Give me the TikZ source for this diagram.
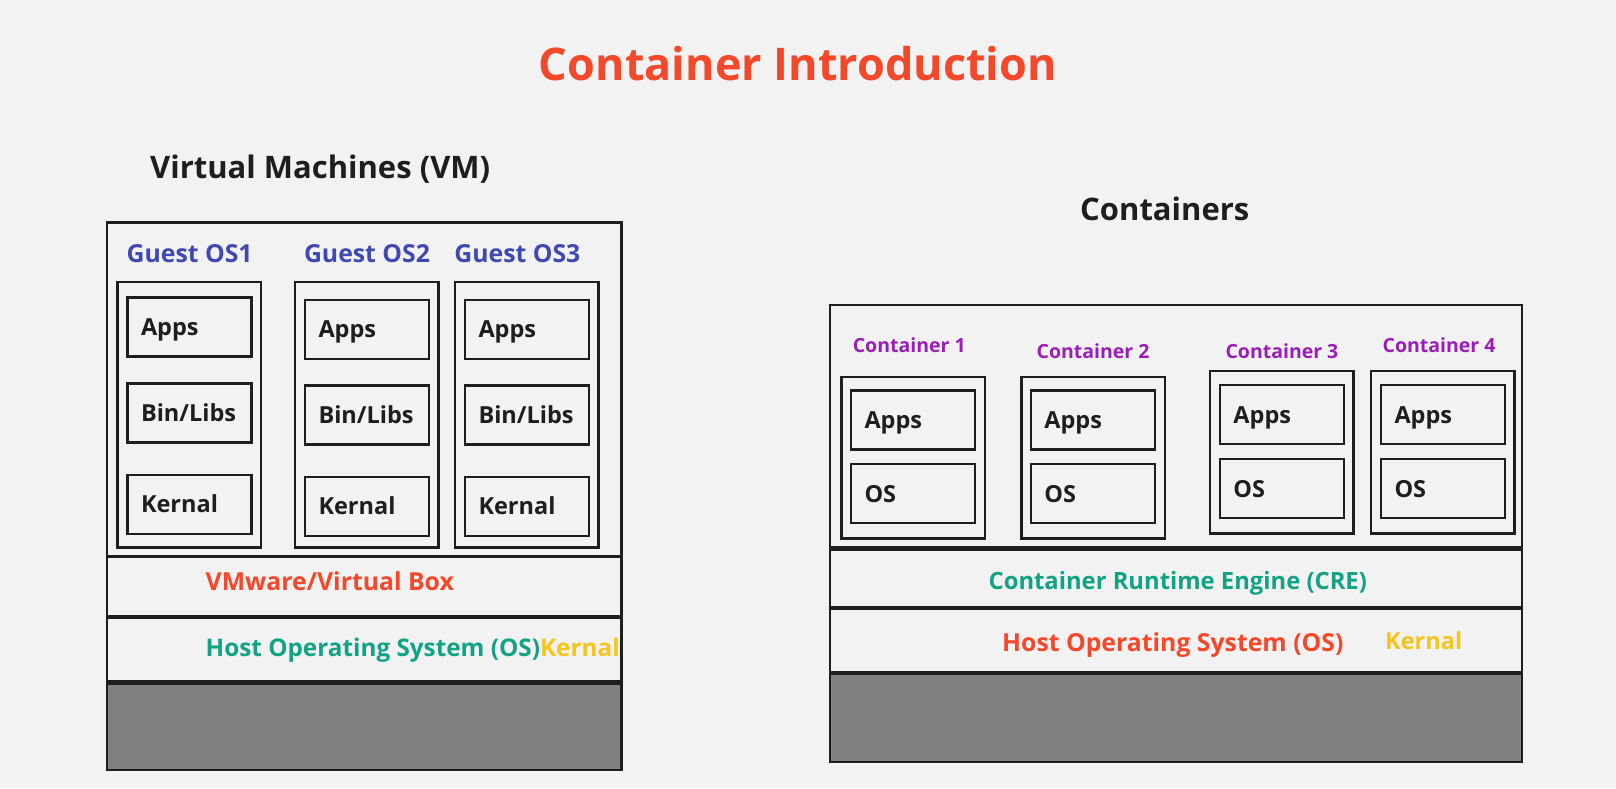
\documentclass[tikz,border=0pt]{standalone}
\usepackage{fontspec}
\setmainfont{Open Sans}

\definecolor{hgrund}{HTML}{F2F2F2}
\definecolor{linie}{HTML}{1E1E1E}
\definecolor{rotorange}{HTML}{F4482A}
\definecolor{gastblau}{HTML}{3F48B3}
\definecolor{lila}{HTML}{9A1DB8}
\definecolor{gruen}{HTML}{12A385}
\definecolor{gelb}{HTML}{F7C41C}
\definecolor{hwgrau}{HTML}{808080}

\begin{document}
\begin{tikzpicture}[x=1pt,y=-1pt,
		rahmen/.style={draw=linie,line width=2.5pt,fill=hgrund,inner sep=0pt},
		feld/.style={rahmen,minimum width=124pt,minimum height=59pt,text width=97pt,
			align=left,inner xsep=13.5pt,text height=17pt,text depth=0pt,
			font=\fontsize{23.5}{28}\selectfont\bfseries,text=linie},
		beschr/.style={anchor=base west,inner sep=0pt,font=\fontsize{24.8}{30}\selectfont\bfseries},
		kopf/.style={anchor=base west,inner sep=0pt,font=\fontsize{31}{36}\selectfont\bfseries,text=linie},
		klein/.style={anchor=base west,inner sep=0pt,font=\fontsize{19.5}{24}\selectfont\bfseries,text=lila}]
			% Hintergrund
			\useasboundingbox (0,0) rectangle (1616,788);
			\fill[hgrund] (0,0) rectangle (1616,788);
			
			% Ueberschrift
			\node[anchor=base,inner sep=0pt,font=\fontsize{45}{54}\selectfont\bfseries,text=rotorange] (titel) at (798,80) {Container Introduction};
			
			% Virtuelle Maschinen: Schichten
			\node[kopf] (vmkopf) at (150,178.3) {Virtual Machines (VM)};
			\node[rahmen,minimum width=514.7pt,minimum height=333.9pt] (vmoben) at (364.2,389.5) {};
			\node[rahmen,minimum width=514.7pt,minimum height=59.6pt] (vmware) at (364.2,586.2) {};
			\node[rahmen,minimum width=514.7pt,minimum height=63.5pt] (vmhost) at (364.2,649.8) {};
			\node[rahmen,fill=hwgrau,minimum width=514.7pt,minimum height=86pt] (vmhw) at (364.2,727) {};
			\node[beschr,text=rotorange] (vmwaretext) at (205.5,590.5) {VMware/Virtual Box};
			\node[beschr,font=\fontsize{24.3}{30}\selectfont\bfseries] (vmhosttext) at (205.5,656) {\textcolor{gruen}{Host Operating System (OS)}\textcolor{gelb}{Kernal}};
			
			% Gast-Betriebssysteme
			\node[beschr,text=gastblau] (gast1text) at (126.4,262.3) {Guest OS1};
			\node[beschr,text=gastblau] (gast2text) at (303.8,262.3) {Guest OS2};
			\node[beschr,text=gastblau] (gast3text) at (454.2,262.3) {Guest OS3};
			\node[rahmen,minimum width=143.6pt,minimum height=265.5pt] (gast1) at (189.4,414.8) {};
			\node[rahmen,minimum width=143.6pt,minimum height=265.5pt] (gast2) at (366.9,414.8) {};
			\node[rahmen,minimum width=143.6pt,minimum height=265.5pt] (gast3) at (526.8,414.8) {};
			
			\node[feld] (g1apps) at (189.5,327) {Apps};
			\node[feld] (g1libs) at (189.5,412.8) {Bin/Libs};
			\node[feld] (g1kern) at (189.5,504.3) {Kernal};
			\node[feld] (g2apps) at (367,329.3) {Apps};
			\node[feld] (g2libs) at (367,414.8) {Bin/Libs};
			\node[feld] (g2kern) at (367,506.4) {Kernal};
			\node[feld] (g3apps) at (527,329.3) {Apps};
			\node[feld] (g3libs) at (527,414.8) {Bin/Libs};
			\node[feld] (g3kern) at (527,506.4) {Kernal};
			
			% Container: Schichten
			\node[kopf] (ckopf) at (1080,220.7) {Containers};
			\node[rahmen,minimum width=691.8pt,minimum height=242.3pt] (coben) at (1175.9,426.2) {};
			\node[rahmen,minimum width=691.8pt,minimum height=56.7pt] (cre) at (1175.9,578.4) {};
			\node[rahmen,minimum width=691.8pt,minimum height=62.7pt] (chost) at (1175.9,640.4) {};
			\node[rahmen,fill=hwgrau,minimum width=691.8pt,minimum height=87.7pt] (chw) at (1175.9,717.9) {};
			\node[beschr,text=gruen,font=\fontsize{23.8}{29}\selectfont\bfseries] (cretext) at (988.4,589.5) {Container Runtime Engine (CRE)};
			\node[beschr,text=rotorange] (chosttext) at (1002,651.5) {Host Operating System (OS)};
			\node[beschr,text=gelb,font=\fontsize{23.5}{28}\selectfont\bfseries] (ckerntext) at (1385,649.5) {Kernal};
			
			% einzelne Container
			\node[klein] (c1text) at (852.6,352.7) {Container 1};
			\node[klein] (c2text) at (1036.4,358.3) {Container 2};
			\node[klein] (c3text) at (1225.3,358.3) {Container 3};
			\node[klein] (c4text) at (1382.4,352.7) {Container 4};
			\node[rahmen,minimum width=143.5pt,minimum height=161.3pt] (c1) at (913,457.7) {};
			\node[rahmen,minimum width=143.5pt,minimum height=161.3pt] (c2) at (1093.3,457.7) {};
			\node[rahmen,minimum width=143.5pt,minimum height=162.3pt] (c3) at (1281.9,452.2) {};
			\node[rahmen,minimum width=143.5pt,minimum height=162.3pt] (c4) at (1442.8,452.2) {};
			
			\node[feld] (c1apps) at (913,419.8) {Apps};
			\node[feld] (c1os) at (913,493.5) {OS};
			\node[feld] (c2apps) at (1092.8,419.8) {Apps};
			\node[feld] (c2os) at (1092.8,493.5) {OS};
			\node[feld] (c3apps) at (1281.9,414.5) {Apps};
			\node[feld] (c3os) at (1281.9,488.5) {OS};
			\node[feld] (c4apps) at (1443,414.5) {Apps};
			\node[feld] (c4os) at (1443,488.5) {OS};
	\end{tikzpicture}
\end{document}
